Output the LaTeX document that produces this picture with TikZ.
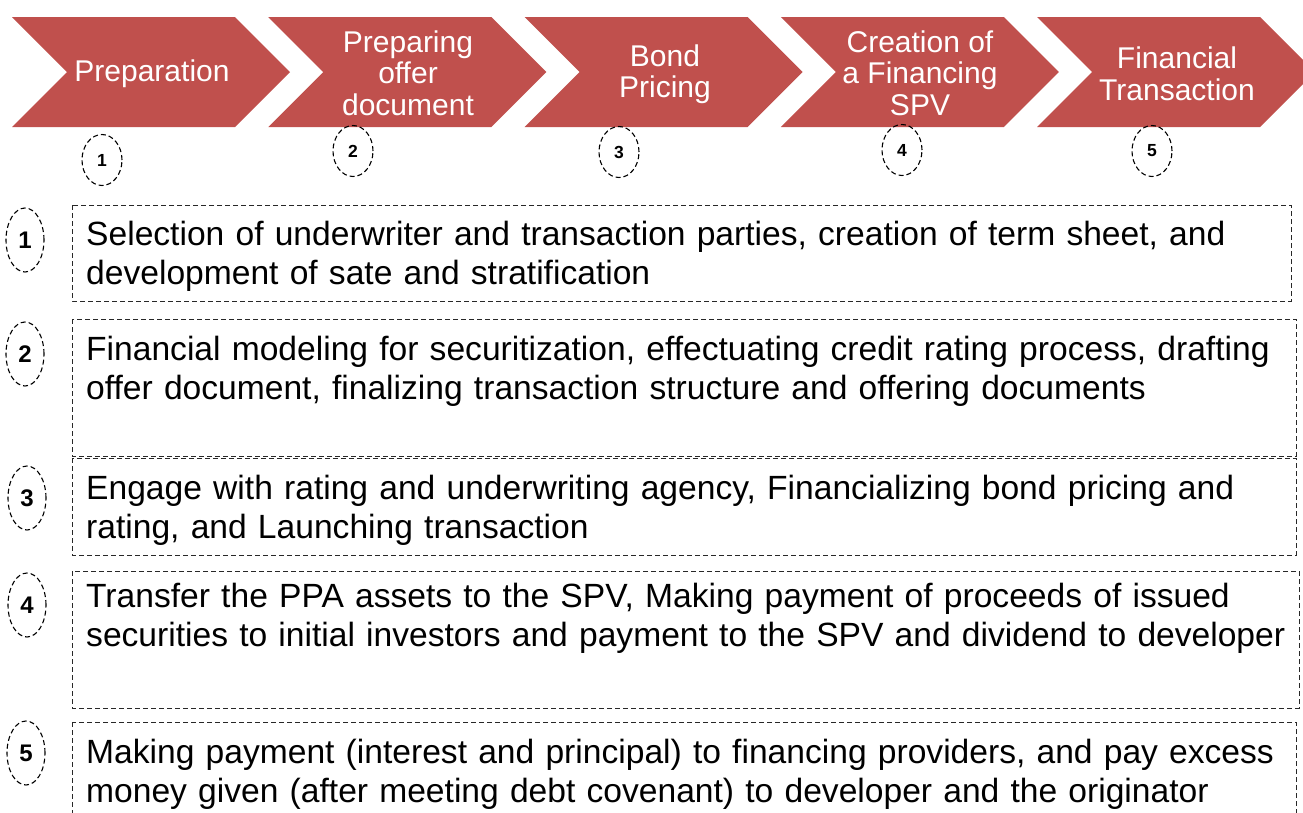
\documentclass[tikz,border=0pt]{standalone}
\usepackage{fontspec}
\setmainfont{Liberation Sans}
\usetikzlibrary{shapes.geometric}
\definecolor{chevred}{RGB}{192,80,77}
\definecolor{dashgray}{RGB}{40,40,40}
\tikzset{
  chevron/.style={fill=chevred, draw=none},
  chevtext/.style={text=white, align=center, inner sep=0pt, font=\fontsize{30}{31.5}\selectfont},
  topnum/.style={ellipse, draw=black, line width=1.1pt, dash pattern=on 5pt off 3pt, minimum width=40pt, minimum height=51pt, inner sep=0pt, font=\fontsize{17.5}{19}\selectfont\bfseries},
  sidenum/.style={ellipse, draw=black, line width=1.1pt, dash pattern=on 5pt off 3pt, minimum width=38pt, minimum height=64pt, inner sep=0pt, font=\fontsize{24}{26}\selectfont\bfseries},
  stepframe/.style={draw=dashgray, line width=0.9pt, dash pattern=on 5pt off 3pt},
  steptext/.style={anchor=base west, inner sep=0pt, text width=1215pt, align=left, font=\fontsize{33.6}{39.5}\selectfont}
}
\begin{document}
\begin{tikzpicture}[x=1pt,y=-1pt]
\useasboundingbox (0,0) rectangle (1303,812);
% chevrons
\foreach \L in {12,268.25,524.5,780.75,1037}{
  \fill[chevron] (\L,17) -- ++(223,0) -- ++(55,55) -- ++(-55,55) -- ++(-223,0) -- ++(55,-55) -- cycle;
}
\node[chevtext] (t1) at (152,74) {Preparation};
\node[chevtext] (t2) at (408,73) {Preparing\\offer\\document};
\node[chevtext] (t3) at (665,74) {Bond\\Pricing};
\node[chevtext] (t4) at (920,73) {Creation of\\a Financing\\SPV};
\node[chevtext] (t5) at (1177,74) {Financial\\Transaction};
% top numbers
\node[topnum] (n1) at (102,160) {1};
\node[topnum] (n2) at (353,151) {2};
\node[topnum] (n3) at (619,152) {3};
\node[topnum] (n4) at (902,150) {4};
\node[topnum] (n5) at (1152,151) {5};
% boxes
\draw[stepframe] (72,205) rectangle (1291,301);
\draw[stepframe] (72,319) rectangle (1296,456);
\draw[stepframe] (72,458) rectangle (1296,555);
\draw[stepframe] (72,571) rectangle (1299,708);
\draw[stepframe] (72,722) rectangle (1296,840);
% side numbers
\node[sidenum] (s1) at (25,240) {1};
\node[sidenum] (s2) at (25,354) {2};
\node[sidenum] (s3) at (27,498) {3};
\node[sidenum] (s4) at (27,605) {4};
\node[sidenum] (s5) at (26,753) {5};
% texts
\node[steptext] (b1) at (86,245) {Selection of underwriter and transaction parties, creation of term sheet, and\\development of sate and stratification};
\node[steptext] (b2) at (86,360) {Financial modeling for securitization, effectuating credit rating process, drafting\\offer document, finalizing transaction structure and offering documents};
\node[steptext] (b3) at (86,499) {Engage with rating and underwriting agency, Financializing bond pricing and\\rating, and Launching transaction};
\node[steptext] (b4) at (86,607) {Transfer the PPA assets to the SPV, Making payment of proceeds of issued\\securities to initial investors and payment to the SPV and dividend to developer};
\node[steptext] (b5) at (86,763) {Making payment (interest and principal) to financing providers, and pay excess\\money given (after meeting debt covenant) to developer and the originator};
\end{tikzpicture}
\end{document}
